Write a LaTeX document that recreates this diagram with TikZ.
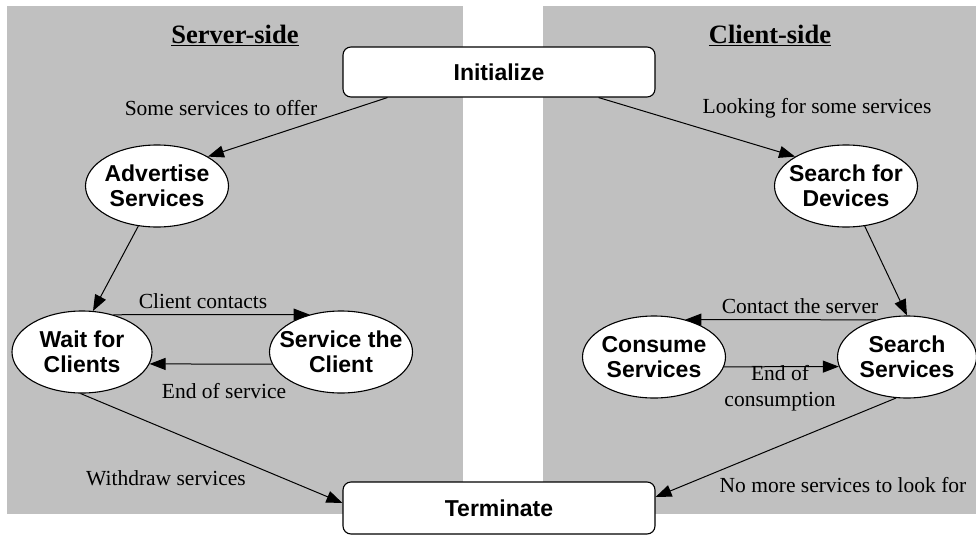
\documentclass[tikz,border=0pt]{standalone}
\usepackage{fontspec}
\setmainfont{Liberation Serif}
\setsansfont{Liberation Sans}
\usetikzlibrary{arrows.meta,shapes.geometric}
\definecolor{panelgray}{RGB}{192,192,192}

\begin{document}
\begin{tikzpicture}[x=1pt,y=-1pt,
    stext/.style={align=center, inner sep=0pt,
        font=\sffamily\bfseries\fontsize{23}{25}\selectfont},
    state/.style={ellipse, draw, line width=1.1pt, fill=white, minimum width=143pt,
        minimum height=82pt, inner sep=0pt, label={[stext]center:#1}},
    endpoint/.style={rectangle, rounded corners=8pt, draw, line width=1.1pt, fill=white,
        minimum width=312pt, minimum height=50pt,
        font=\sffamily\bfseries\fontsize{23}{25}\selectfont},
    trans/.style={-{Triangle[length=16pt,width=12pt]}, line width=1pt},
    lbl/.style={font=\fontsize{21.5}{26}\selectfont, align=center, inner sep=0pt},
    side/.style={font=\bfseries\fontsize{26.5}{28}\selectfont, inner sep=0pt}]

    \useasboundingbox (0,0) rectangle (976,535);

    % Grey panels
    \fill[panelgray] (7,6) rectangle (463,514);
    \fill[panelgray] (543,6) rectangle (976,514);

    % Panel titles
    \node[side] (servertitle) at (235,35) {\underline{Server-side}};
    \node[side] (clienttitle) at (770,35) {\underline{Client-side}};

    % Start and end
    \node[endpoint] (init) at (499,72) {Initialize};
    \node[endpoint, minimum height=52pt] (term) at (499,508) {Terminate};

    % Server states
    \node[state={Advertise\\Services}] (adv) at (157,186) {};
    \node[state={Wait for\\Clients}, minimum width=140pt] (wait) at (82,352) {};
    \node[state={Service the\\Client}] (serv) at (341,352) {};

    % Client states
    \node[state={Search for\\Devices}] (sfd) at (846,186) {};
    \node[state={Consume\\Services}] (cons) at (654,357) {};
    \node[state={Search\\Services}, minimum width=139pt] (ssrv) at (907,357) {};

    % Server transitions
    \draw[trans] ([xshift=45pt]init.south west) -- (adv.30);
    \draw[trans] (adv.245) -- (wait.75);
    \draw[trans] (wait.50) -- (serv.130);
    \draw[trans] (serv.190) -- (wait.-10);
    \draw[trans] (wait.268) -- ([yshift=5pt]term.west);

    % Client transitions
    \draw[trans] ([xshift=-57pt]init.south east) -- (sfd.150);
    \draw[trans] (sfd.295) -- (ssrv.north);
    \draw[trans] (ssrv.130) -- (cons.50);
    \draw[trans] (cons.-8) -- (ssrv.188);
    \draw[trans] (ssrv.255) -- ([yshift=11pt]term.east);

    % Transition labels
    \node[lbl] (offer) at (221,108) {Some services to offer};
    \node[lbl] (looking) at (817,108) {Looking for some services};
    \node[lbl] (contacts) at (203,301) {Client contacts};
    \node[lbl] (endserv) at (224,391) {End of service};
    \node[lbl] (withdraw) at (166,478) {Withdraw services};
    \node[lbl] (contact) at (800,306) {Contact the server};
    \node[lbl] (endcons) at (780,388) {End of\\consumption};
    \node[lbl] (nomore) at (843,485) {No more services to look for};

\end{tikzpicture}
\end{document}
